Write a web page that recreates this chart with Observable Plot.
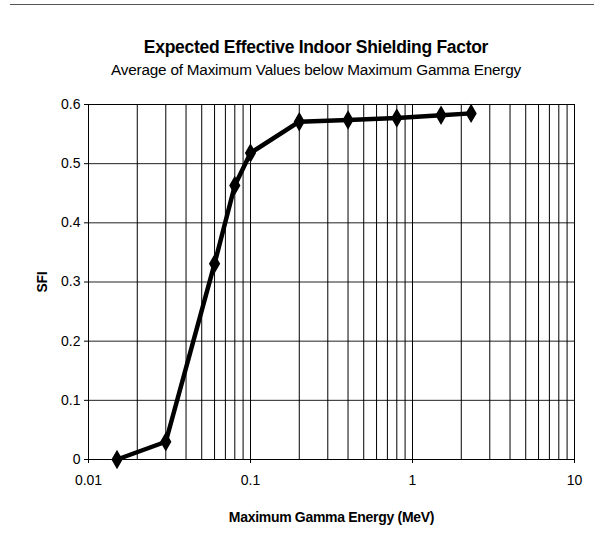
<!DOCTYPE html>
<html>
<head>
<meta charset="utf-8">
<script src="https://cdn.jsdelivr.net/npm/d3@7"></script>
<script src="https://cdn.jsdelivr.net/npm/@observablehq/plot@0.6"></script>
<style>
  html, body { margin: 0; padding: 0; background: #fff; }
  #wrap { position: relative; width: 594px; height: 554px; font-family: "Liberation Sans", Arial, sans-serif; }
  #topline { position: absolute; left: 10px; top: 4px; width: 584px; height: 0; border-top: 1px solid #555; }
  .t { position: absolute; left: 316px; transform: translateX(-50%); white-space: nowrap; color: #000; line-height: 1; }
  #title { top: 39px; font-size: 17.5px; font-weight: bold; letter-spacing: -0.3px; }
  #subtitle { top: 62px; font-size: 15.3px; letter-spacing: -0.2px; }
  #chart { position: absolute; left: 0; top: 0; }
</style>
</head>
<body>
<div id="wrap">
  <div id="chart"></div>
  <div id="topline"></div>
  <div id="title" class="t">Expected Effective Indoor Shielding Factor</div>
  <div id="subtitle" class="t">Average of Maximum Values below Maximum Gamma Energy</div>
</div>
<script>
const energy = [0.015, 0.03, 0.06, 0.08, 0.1, 0.2, 0.4, 0.8, 1.5, 2.3];
const sfi    = [0.0, 0.03, 0.331, 0.463, 0.518, 0.571, 0.574, 0.577, 0.582, 0.585];
const xTicks = [0.01, 0.1, 1, 10];
const xTickLabels = ["0.01", "0.1", "1", "10"];
const yTicks = [0, 0.1, 0.2, 0.3, 0.4, 0.5, 0.6];
const yTickLabels = ["0", "0.1", "0.2", "0.3", "0.4", "0.5", "0.6"];
const xGrid = [0.02, 0.03, 0.04, 0.05, 0.06, 0.07, 0.08, 0.09, 0.1,
               0.2, 0.3, 0.4, 0.5, 0.6, 0.7, 0.8, 0.9, 1,
               2, 3, 4, 5, 6, 7, 8, 9];

const data = energy.map((e, i) => ({e, s: sfi[i]}));

const chart = Plot.plot({
  width: 594,
  height: 554,
  marginLeft: 88,
  marginRight: 20,
  marginTop: 104,
  marginBottom: 95,
  style: { fontFamily: "'Liberation Sans', Arial, sans-serif", fontSize: "13px", color: "#000", background: "transparent" },
  x: { type: "log", domain: [0.01, 10] },
  y: { domain: [0, 0.6] },
  marks: [
    Plot.ruleY(yTicks, { stroke: "#222", strokeWidth: 1 }),
    Plot.ruleX(xGrid, { stroke: "#000", strokeWidth: 1 }),
    Plot.frame({ stroke: "#000", strokeWidth: 1 }),
    Plot.axisX(xTicks, { tickFormat: d => xTickLabels[xTicks.indexOf(d)], tickSize: 4, tickPadding: 12, fontSize: 14, label: null }),
    Plot.axisX([], { label: "Maximum Gamma Energy (MeV)", labelAnchor: "center", labelArrow: "none", labelOffset: 62, fontWeight: "bold", fontSize: 14, tickSize: 0 }),
    Plot.axisY(yTicks, { tickFormat: d => yTickLabels[yTicks.indexOf(d)], tickSize: 4, tickPadding: 4, fontSize: 14, label: null }),
    Plot.axisY([], { label: "SFI", labelAnchor: "center", labelArrow: "none", labelOffset: 51, fontWeight: "bold", fontSize: 14, tickSize: 0 }),
    Plot.line(data, { x: "e", y: "s", stroke: "#000", strokeWidth: 4.5, strokeLinejoin: "round" }),
    Plot.dot(data, { x: "e", y: "s", symbol: "diamond", r: 5, fill: "#000", stroke: "#000" })
  ]
});
chart.querySelectorAll("[aria-label='x-axis label'], [aria-label='y-axis label']").forEach(g => g.setAttribute("letter-spacing", "-0.3"));
document.getElementById("chart").appendChild(chart);
</script>
</body>
</html>
